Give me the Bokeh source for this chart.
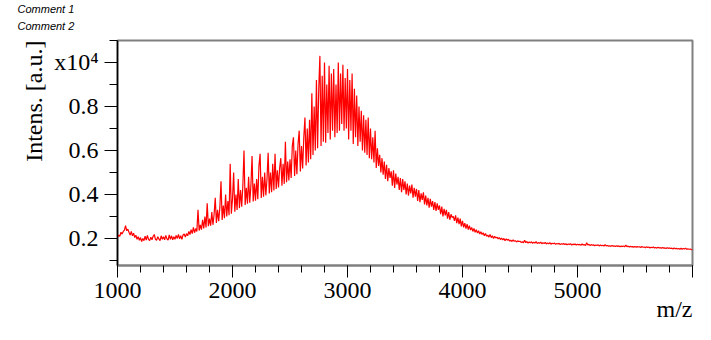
from bokeh.plotting import figure
from bokeh.models import FixedTicker, Title
from bokeh.embed import file_html
from bokeh.resources import INLINE

# ---- data (intensity in units of 1e4, m/z grid step 10 from 1000) ----
mz_start = 1000
mz_step = 10
intensity = [
    0.205, 0.215, 0.210, 0.228, 0.220, 0.232, 0.238, 0.258, 0.235, 0.242,  # 1000
    0.228, 0.215, 0.232, 0.212, 0.224, 0.204, 0.215, 0.196, 0.208, 0.192,  # 1100
    0.204, 0.186, 0.200, 0.190, 0.210, 0.192, 0.214, 0.196, 0.190, 0.206,  # 1200
    0.194, 0.210, 0.218, 0.196, 0.192, 0.208, 0.198, 0.190, 0.212, 0.196,  # 1300
    0.208, 0.194, 0.214, 0.198, 0.192, 0.216, 0.196, 0.212, 0.194, 0.208,  # 1400
    0.196, 0.214, 0.200, 0.218, 0.198, 0.212, 0.196, 0.216, 0.220, 0.206,  # 1500
    0.222, 0.212, 0.232, 0.218, 0.240, 0.222, 0.250, 0.226, 0.245, 0.232,  # 1600
    0.330, 0.236, 0.262, 0.240, 0.285, 0.246, 0.300, 0.250, 0.360, 0.256,  # 1700
    0.290, 0.258, 0.320, 0.262, 0.310, 0.385, 0.270, 0.330, 0.278, 0.340,  # 1800
    0.460, 0.284, 0.350, 0.292, 0.400, 0.300, 0.370, 0.306, 0.540, 0.312,  # 1900
    0.380, 0.500, 0.322, 0.400, 0.330, 0.470, 0.338, 0.420, 0.344, 0.440,  # 2000
    0.600, 0.352, 0.430, 0.358, 0.480, 0.362, 0.440, 0.575, 0.368, 0.450,  # 2100
    0.372, 0.470, 0.378, 0.530, 0.585, 0.384, 0.480, 0.390, 0.500, 0.396,  # 2200
    0.470, 0.590, 0.404, 0.500, 0.410, 0.540, 0.418, 0.585, 0.425, 0.510,  # 2300
    0.432, 0.520, 0.565, 0.440, 0.540, 0.448, 0.640, 0.456, 0.550, 0.464,  # 2400
    0.560, 0.475, 0.620, 0.660, 0.484, 0.600, 0.492, 0.630, 0.690, 0.505,  # 2500
    0.620, 0.518, 0.660, 0.750, 0.532, 0.700, 0.545, 0.740, 0.560, 0.860,  # 2600
    0.580, 0.800, 0.600, 0.920, 0.610, 0.880, 1.030, 0.620, 0.940, 0.640,  # 2700
    1.000, 0.635, 0.900, 0.680, 0.985, 0.650, 0.950, 0.690, 0.970, 0.660,  # 2800
    0.900, 0.680, 1.000, 0.690, 0.950, 0.720, 0.990, 0.690, 0.930, 0.700,  # 2900
    0.970, 0.650, 0.920, 0.690, 0.950, 0.630, 0.880, 0.660, 0.850, 0.620,  # 3000
    0.800, 0.640, 0.780, 0.600, 0.760, 0.590, 0.740, 0.580, 0.750, 0.565,  # 3100
    0.700, 0.560, 0.660, 0.545, 0.690, 0.520, 0.610, 0.530, 0.580, 0.500,  # 3200
    0.565, 0.490, 0.550, 0.470, 0.535, 0.460, 0.520, 0.475, 0.505, 0.440,  # 3300
    0.510, 0.430, 0.495, 0.445, 0.480, 0.420, 0.475, 0.410, 0.470, 0.420,  # 3400
    0.460, 0.400, 0.450, 0.395, 0.440, 0.405, 0.445, 0.385, 0.430, 0.390,  # 3500
    0.425, 0.370, 0.420, 0.365, 0.405, 0.375, 0.410, 0.355, 0.395, 0.350,  # 3600
    0.385, 0.340, 0.380, 0.345, 0.370, 0.330, 0.365, 0.325, 0.360, 0.330,  # 3700
    0.350, 0.310, 0.345, 0.300, 0.335, 0.305, 0.330, 0.290, 0.320, 0.285,  # 3800
    0.310, 0.295, 0.300, 0.280, 0.305, 0.270, 0.295, 0.265, 0.290, 0.255,  # 3900
    0.280, 0.250, 0.270, 0.245, 0.265, 0.240, 0.258, 0.238, 0.250, 0.232,  # 4000
    0.245, 0.228, 0.240, 0.225, 0.235, 0.220, 0.230, 0.218, 0.226, 0.212,  # 4100
    0.222, 0.210, 0.215, 0.206, 0.218, 0.204, 0.212, 0.200, 0.210, 0.202,  # 4200
    0.206, 0.198, 0.204, 0.195, 0.202, 0.193, 0.200, 0.190, 0.198, 0.192,  # 4300
    0.196, 0.188, 0.192, 0.186, 0.194, 0.187, 0.190, 0.184, 0.189, 0.186,  # 4400
    0.187, 0.182, 0.185, 0.180, 0.192, 0.181, 0.186, 0.179, 0.184, 0.180,  # 4500
    0.185, 0.178, 0.183, 0.179, 0.186, 0.177, 0.181, 0.178, 0.183, 0.176,  # 4600
    0.180, 0.177, 0.182, 0.175, 0.179, 0.176, 0.181, 0.174, 0.178, 0.176,  # 4700
    0.179, 0.173, 0.177, 0.175, 0.178, 0.172, 0.176, 0.174, 0.177, 0.172,  # 4800
    0.176, 0.171, 0.175, 0.173, 0.176, 0.170, 0.174, 0.172, 0.175, 0.170,  # 4900
    0.174, 0.171, 0.173, 0.169, 0.175, 0.170, 0.172, 0.168, 0.180, 0.170,  # 5000
    0.173, 0.168, 0.172, 0.169, 0.171, 0.167, 0.170, 0.168, 0.171, 0.166,  # 5100
    0.170, 0.167, 0.169, 0.165, 0.172, 0.166, 0.168, 0.165, 0.167, 0.164,  # 5200
    0.168, 0.165, 0.166, 0.163, 0.167, 0.164, 0.166, 0.162, 0.165, 0.163,  # 5300
    0.166, 0.162, 0.170, 0.163, 0.165, 0.161, 0.164, 0.162, 0.163, 0.160,  # 5400
    0.164, 0.160, 0.163, 0.161, 0.162, 0.159, 0.163, 0.160, 0.161, 0.158,  # 5500
    0.162, 0.159, 0.161, 0.157, 0.160, 0.158, 0.161, 0.157, 0.159, 0.156,  # 5600
    0.160, 0.157, 0.158, 0.155, 0.159, 0.156, 0.157, 0.154, 0.158, 0.155,  # 5700
    0.157, 0.154, 0.156, 0.152, 0.157, 0.153, 0.155, 0.152, 0.154, 0.151,  # 5800
    0.155, 0.151, 0.154, 0.152, 0.156, 0.150, 0.153, 0.151, 0.152, 0.150,  # 5900
    0.148,                                                                  # 6000
]
mz = [mz_start + mz_step * i for i in range(len(intensity))]

x_major_ticks = [1000, 2000, 3000, 4000, 5000, 6000]
x_tick_labels = ["1000", "2000", "3000", "4000", "5000", ""]
x_minor_ticks = list(range(1000, 6001, 200))
y_major_ticks = [0.2, 0.4, 0.6, 0.8, 1.0]
y_tick_labels = ["0.2", "0.4", "0.6", "0.8", "x10\u2074"]
y_minor_ticks = [0.1, 0.3, 0.5, 0.7, 0.9, 1.1]

SERIF = "Liberation Serif"
SANS = "Liberation Sans"

p = figure(width=711, height=340, x_range=(1000, 6000), y_range=(0.077, 1.1),
           output_backend="svg", toolbar_location=None,
           min_border_left=117, min_border_right=19, min_border_top=40, min_border_bottom=75)
p.xgrid.visible = False
p.ygrid.visible = False
p.outline_line_color = "#808080"
p.outline_line_width = 2

p.line(mz, intensity, line_color="#ff0000", line_width=1.2)

p.xaxis.ticker = FixedTicker(ticks=x_major_ticks, minor_ticks=x_minor_ticks)
p.xaxis.major_label_overrides = {t: l for t, l in zip(x_major_ticks, x_tick_labels)}
p.yaxis.ticker = FixedTicker(ticks=y_major_ticks, minor_ticks=y_minor_ticks)
p.yaxis.major_label_overrides = {t: l for t, l in zip(y_major_ticks, y_tick_labels)}

for ax in (p.xaxis[0], p.yaxis[0]):
    ax.major_label_text_font = SERIF
    ax.major_label_text_font_size = "24px"
    ax.major_label_text_color = "black"
    ax.major_tick_line_color = "black"
    ax.minor_tick_line_color = "black"
    ax.major_tick_in = 0
    ax.minor_tick_in = 0

p.yaxis.axis_line_color = "black"
p.yaxis.axis_line_width = 1.5
p.yaxis.major_tick_out = 13
p.yaxis.minor_tick_out = 8
p.yaxis.major_label_standoff = 6

p.xaxis.axis_line_color = "#808080"
p.xaxis.axis_line_width = 2
p.xaxis.major_tick_out = 12
p.xaxis.minor_tick_out = 7
p.xaxis.major_label_standoff = 5

# comments above the frame (first added sits closest to the frame)
p.add_layout(Title(text="Comment 2", align="left", offset=-100, standoff=18,
                   text_font=SANS, text_font_size="11px", text_font_style="italic",
                   text_color="black"), "above")
p.add_layout(Title(text="Comment 1", align="left", offset=-100, standoff=-13,
                   text_font=SANS, text_font_size="11px", text_font_style="italic",
                   text_color="black"), "above")
# y axis title, aligned to the top of the frame
p.add_layout(Title(text="Intens. [a.u.]", align="right", standoff=9,
                   text_font=SERIF, text_font_size="24px", text_font_style="normal",
                   text_color="black"), "left")
# x axis title, aligned to the right of the frame
p.add_layout(Title(text="m/z", align="right", standoff=-14,
                   text_font=SERIF, text_font_size="24px", text_font_style="normal",
                   text_color="black"), "below")

open("out.html", "w").write(file_html(p, INLINE))
